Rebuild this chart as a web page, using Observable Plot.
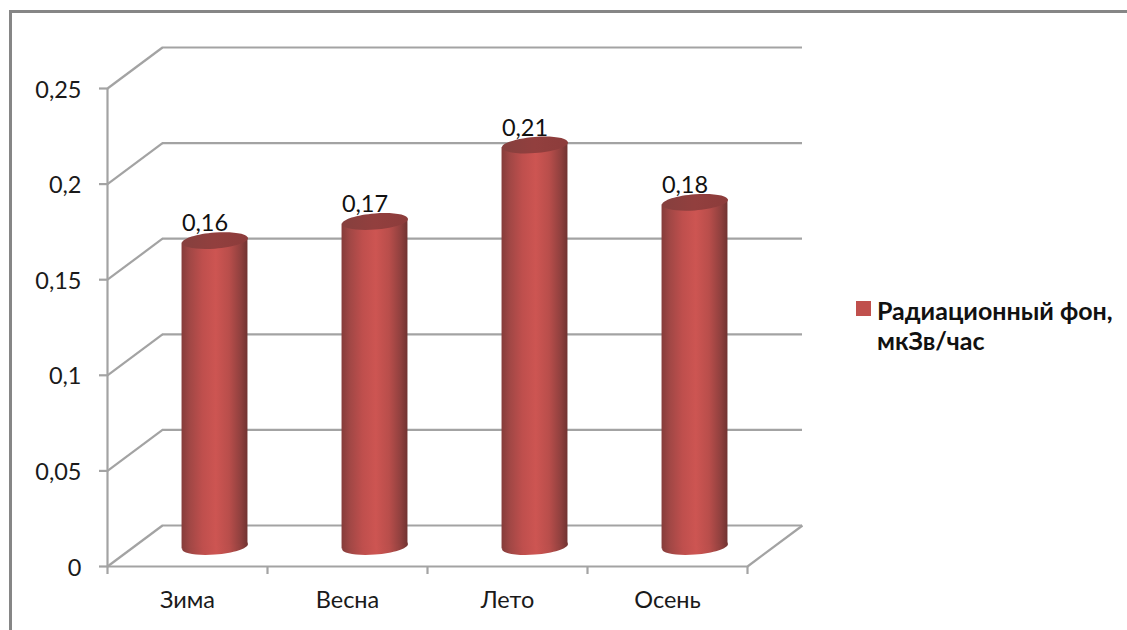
<!DOCTYPE html>
<html lang="ru">
<head>
<meta charset="utf-8">
<script src="https://cdn.jsdelivr.net/npm/d3@7"></script>
<script src="https://cdn.jsdelivr.net/npm/@observablehq/plot@0.6"></script>
<style>
  html, body { margin: 0; padding: 0; background: #fff; overflow: hidden; }
  #chart { position: relative; width: 1127px; height: 630px; font-family: Lato, sans-serif; color: #1a1a1a; }
  #frame { position: absolute; left: 9px; top: 10px; width: 1118px; height: 620px; border-left: 3px solid #868686; border-top: 3px solid #868686; box-sizing: border-box; }
  #legend { position: absolute; left: 856px; top: 295px; display: flex; font-size: 25px; font-weight: 700; line-height: 30px; color: #111; white-space: nowrap; }
  #legend i { display: block; width: 15px; height: 15px; margin: 6px 6px 0 0; background: #c0504d; }
  svg { position: absolute; left: 0; top: 0; font-family: Lato, sans-serif; }
</style>
</head>
<body>
<div id="chart"><div id="frame"></div></div>
<script>
const seasons = ["Зима", "Весна", "Лето", "Осень"];
const background = [0.16, 0.17, 0.21, 0.18];
const yTicks = [0, 0.05, 0.1, 0.15, 0.2, 0.25];
const xTicks = [0, 1, 2, 3, 4];
const legendLines = ["Радиационный фон,", "мкЗв/час"];

const comma = (v) => String(v).replace(".", ",");

// Oblique projection of the chart's depth, in pixels and in data units.
const depthPx = {x: 55, y: -41};
const depthData = {x: depthPx.x / 160, y: 0.25 * 41 / 478};
const barHalf = 0.206;
const capTilt = 0.075; // rise of a cap across its half width
const gray = "#a3a3a3";
const ink = "#1a1a1a";

const bars = seasons.map((name, i) => ({name, i, value: background[i], centre: i + 0.5 + depthData.x / 2}));
const barDy = -20;

// Each cylinder wall runs between the tilted edges of its two caps.
const tiltData = barHalf * 160 * capTilt * 0.25 / 478;
const walls = bars.flatMap((b) => [
  {name: b.name, x: b.centre - barHalf, y1: -tiltData, y2: b.value - tiltData},
  {name: b.name, x: b.centre + barHalf, y1: tiltData, y2: b.value + tiltData}
]);

// Tilted ellipse for the cylinder caps, expressed as a Plot dot symbol.
const ellipse = {
  draw(ctx, size) {
    const rx = Math.sqrt(size / Math.PI), ry = rx * 0.245, k = 0.5523;
    const p = (x, y) => [x, y - capTilt * x];
    const c = (a, b, cc, d, e, f) => ctx.bezierCurveTo(...p(a, b), ...p(cc, d), ...p(e, f));
    ctx.moveTo(...p(-rx, 0));
    c(-rx, -k * ry, -k * rx, -ry, 0, -ry);
    c(k * rx, -ry, rx, -k * ry, rx, 0);
    c(rx, k * ry, k * rx, ry, 0, ry);
    c(-k * rx, ry, -rx, k * ry, -rx, 0);
    ctx.closePath();
  }
};

const gradients = () => {
  const ns = "http://www.w3.org/2000/svg";
  const defs = document.createElementNS(ns, "defs");
  const add = (id, stops) => {
    const g = document.createElementNS(ns, "linearGradient");
    g.setAttribute("id", id);
    for (const [offset, color] of stops) {
      const s = document.createElementNS(ns, "stop");
      s.setAttribute("offset", offset);
      s.setAttribute("stop-color", color);
      g.appendChild(s);
    }
    defs.appendChild(g);
  };
  add("cylinder", [[0, "#853c3a"], [0.12, "#a04745"], [0.32, "#bf4f4d"], [0.52, "#cd5552"], [0.72, "#b94e4b"], [0.9, "#8f403e"], [1, "#713331"]]);
  add("cap", [[0, "#86403e"], [0.5, "#923f3e"], [1, "#8c3c3b"]]);
  return defs;
};

const chart = Plot.plot({
  width: 1127,
  height: 630,
  marginLeft: 107,
  marginRight: 380,
  marginTop: 88,
  marginBottom: 64,
  x: {type: "linear", domain: [0, 4], axis: null},
  y: {type: "linear", domain: [0, 0.25], axis: null},
  style: {background: "transparent", fontFamily: "Lato, sans-serif"},
  marks: [
    gradients,
    // back wall grid
    Plot.ruleY(yTicks, {x1: 0, x2: 4, dx: depthPx.x, dy: depthPx.y, stroke: gray, strokeWidth: 2.2}),
    // side wall and floor edges
    Plot.link(yTicks, {x1: 0, y1: (d) => d, x2: depthData.x, y2: (d) => d + depthData.y, stroke: gray, strokeWidth: 2.2}),
    Plot.link([0], {x1: 4, y1: 0, x2: 4 + depthData.x, y2: depthData.y, stroke: gray, strokeWidth: 2.2}),
    // front axes
    Plot.ruleY([0], {x1: 0, x2: 4, stroke: gray, strokeWidth: 2.2}),
    Plot.ruleX([0], {y1: 0, y2: 0.25, stroke: gray, strokeWidth: 2.2}),
    Plot.axisY({
      ticks: yTicks, tickSize: 8, tickFormat: () => "",
      stroke: gray, strokeWidth: 2.2, strokeOpacity: 1, label: null
    }),
    Plot.text(yTicks, {x: 0, y: (d) => d, text: comma, textAnchor: "end", dx: -26, dy: 1.5, fontSize: 23.5, fill: ink}),
    Plot.axisX({
      ticks: xTicks, tickSize: 8, tickPadding: 0, tickFormat: () => "",
      stroke: gray, strokeWidth: 2.2, strokeOpacity: 1, label: null
    }),
    Plot.text(bars, {x: (d) => d.i + 0.5, y: 0, text: "name", dy: 34, fontSize: 23.5, fill: ink}),
    // cylinders: bottom cap, wall, top cap
    Plot.dot(bars, {x: "centre", y: 0, dy: barDy, r: barHalf * 160, symbol: ellipse, fill: "url(#cylinder)"}),
    Plot.areaY(walls, {x: "x", y1: "y1", y2: "y2", z: "name", dy: barDy, fill: "url(#cylinder)"}),
    Plot.dot(bars, {x: "centre", y: "value", dy: barDy, r: barHalf * 160, symbol: ellipse, fill: "url(#cap)"}),
    // value labels
    Plot.text(bars, {x: "centre", y: "value", text: (d) => comma(d.value), dx: -10, dy: barDy - 17, fontSize: 23.5, fill: "#111"})
  ]
});
const root = document.getElementById("chart");
root.appendChild(chart);

// Legend to the right of the plot area.
const legend = document.createElement("div");
legend.id = "legend";
const swatch = document.createElement("i");
const label = document.createElement("div");
label.innerHTML = legendLines.join("<br>");
legend.append(swatch, label);
root.appendChild(legend);
</script>
</body>
</html>
